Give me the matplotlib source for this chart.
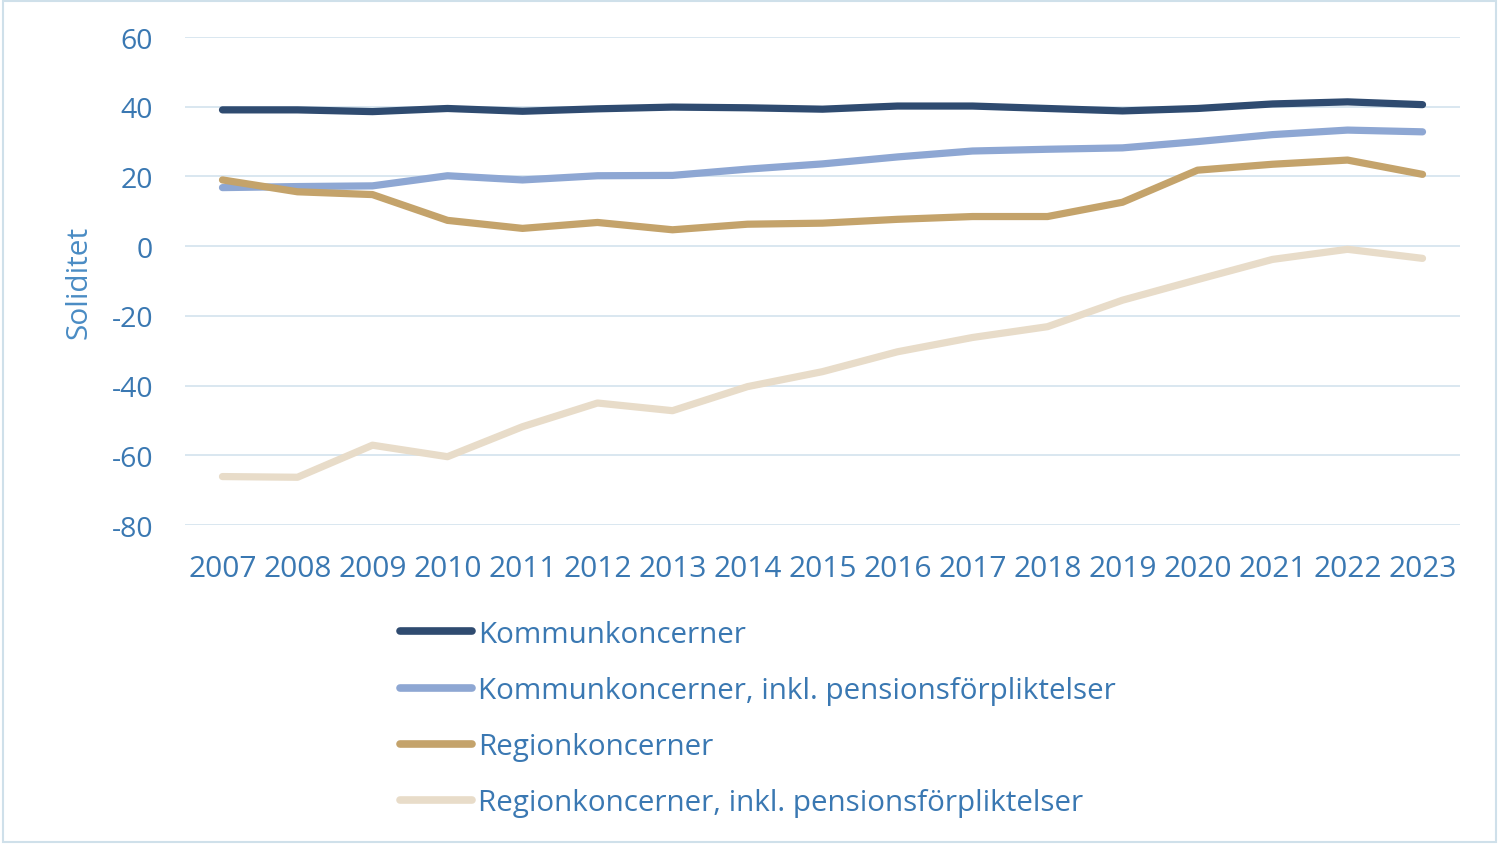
import matplotlib
matplotlib.use("Agg")
import matplotlib.pyplot as plt
from matplotlib.patches import Rectangle

# data
years = [str(y) for y in range(2007, 2024)]
kommun = [39.1, 39.1, 38.6, 39.5, 38.7, 39.4, 39.9, 39.7, 39.3, 40.2, 40.2, 39.5, 38.8, 39.5, 40.8, 41.4, 40.6]
kommun_pension = [16.8, 17.1, 17.3, 20.2, 19.0, 20.2, 20.3, 22.1, 23.6, 25.6, 27.3, 27.8, 28.2, 30.0, 32.0, 33.3, 32.8]
region = [19.0, 15.6, 14.8, 7.4, 5.1, 6.8, 4.7, 6.3, 6.6, 7.7, 8.5, 8.5, 12.6, 21.8, 23.5, 24.7, 20.6]
region_pension = [-66.1, -66.3, -57.1, -60.4, -51.8, -45.0, -47.2, -40.3, -36.0, -30.3, -26.2, -23.1, -15.5, -9.6, -3.8, -0.9, -3.5]

labels = ["Kommunkoncerner",
          "Kommunkoncerner, inkl. pensionsförpliktelser",
          "Regionkoncerner",
          "Regionkoncerner, inkl. pensionsförpliktelser"]
colors = ["#2f4b70", "#8ea7d3", "#c4a36b", "#e8dcc9"]
y_ticks = [60, 40, 20, 0, -20, -40, -60, -80]

TEXT_BLUE = "#3a78b2"
GRID_BLUE = "#d3e3ee"

plt.rcParams['font.family'] = ['Open Sans', 'DejaVu Sans']

fig = plt.figure(figsize=(14.99, 8.45), dpi=100)
ax = fig.add_axes([0.1234, 0.3775, 0.8506, 0.5775])

x = list(range(len(years)))
for series, col, lab in zip([kommun, kommun_pension, region, region_pension], colors, labels):
    ax.plot(x, series, color=col, lw=5.2, solid_capstyle='round', solid_joinstyle='round', label=lab)

ax.set_xlim(-0.5, len(years) - 0.5)
ax.set_ylim(-80, 60)
ax.set_yticks(y_ticks)
ax.set_yticklabels([str(v) for v in y_ticks], fontsize=20.5, color=TEXT_BLUE)
ax.set_xticks(x)
ax.set_xticklabels(years, fontsize=21.5, color=TEXT_BLUE)
ax.tick_params(axis='both', length=0)
ax.tick_params(axis='y', pad=23)
ax.tick_params(axis='x', pad=21)
ax.grid(axis='y', color=GRID_BLUE, lw=1.2)
ax.set_axisbelow(True)
for s in ax.spines.values():
    s.set_visible(False)
ax.set_ylabel("Soliditet", fontsize=21.5, color="#4a8cc4", labelpad=13)

handles, labs = ax.get_legend_handles_labels()
leg = fig.legend(handles, labs, loc='upper left', bbox_to_anchor=(0.267, 0.2655),
                 frameon=False, fontsize=21.3, labelcolor=TEXT_BLUE,
                 handlelength=2.43, handletextpad=0.2, labelspacing=0.92,
                 borderpad=0, borderaxespad=0)
for h in leg.get_lines():
    h.set_linewidth(5.5)
    h.set_solid_capstyle('round')

# thin frame around the whole picture
fig.patches.append(Rectangle((0.002, 0.002), 0.996, 0.996, transform=fig.transFigure,
                             fill=False, edgecolor="#cfe0ea", lw=1.5))

fig.savefig("out.png", dpi=100)
